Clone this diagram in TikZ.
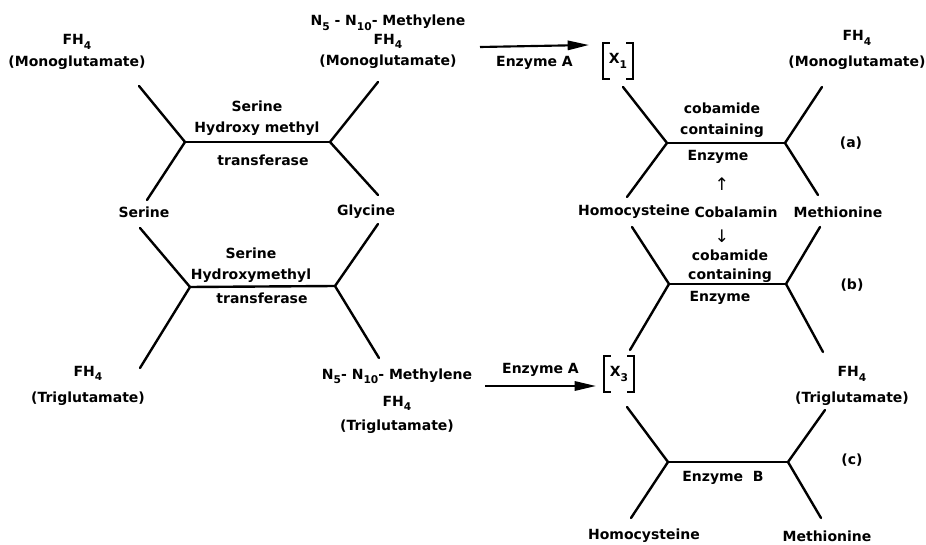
\documentclass[tikz,border=0pt]{standalone}
\usepackage{fontspec}
\setmainfont{DejaVu Sans}
\usetikzlibrary{positioning,arrows.meta}

\newcommand{\lsub}[1]{\raisebox{-0.55ex}{\fontsize{8}{9}\selectfont #1}}

\begin{document}
\begin{tikzpicture}[
    x=0.75pt,y=-0.75pt,
    lbl/.style={font=\fontsize{10.5}{16}\selectfont\bfseries,align=center,inner sep=1pt},
    bond/.style={line width=1.8pt,line cap=round,line join=miter},
    arrow/.style={-{Triangle[length=16pt,width=7pt]},line width=1.6pt},
    brk/.style={line width=1.6pt},
    glyph/.style={font=\fontsize{13}{13}\selectfont,inner sep=0pt}
]
    \useasboundingbox (0,0) rectangle (926,545);

    % Left: serine hydroxymethyl transferase
    \node[lbl] (fhmono) at (77,52) {FH\lsub{4}\\(Monoglutamate)};
    \node[lbl] (mthfmono) at (388,42) {N\lsub{5} - N\lsub{10}- Methylene\\[-2pt]FH\lsub{4}\\(Monoglutamate)};
    \node[lbl] (shmt1) at (257,118) {Serine\\Hydroxy methyl};
    \node[lbl] (tf1) at (263,160) {transferase};
    \node[lbl] (ser) at (144,212) {Serine};
    \node[lbl] (gly) at (366,212) {Glycine};
    \node[lbl] (shmt2) at (251,265) {Serine\\Hydroxymethyl};
    \node[lbl] (tf2) at (262,298) {transferase};
    \node[lbl] (fhtri) at (88,386) {FH\lsub{4}\\[4pt](Triglutamate)};
    \node[lbl] (mthftri) at (397,401) {N\lsub{5}- N\lsub{10}- Methylene\\[4pt]FH\lsub{4}\\[2pt](Triglutamate)};

    \coordinate (s1l) at (185,142);
    \coordinate (s1r) at (330,142);
    \coordinate (s1a) at (139,86);
    \coordinate (s1b) at (147,200);
    \coordinate (s1c) at (378,82);
    \coordinate (s1d) at (378,195);
    \draw[bond] (s1a) -- (s1l) -- (s1b);
    \draw[bond] (s1l) -- (s1r);
    \draw[bond] (s1c) -- (s1r) -- (s1d);

    \coordinate (s2l) at (190,287);
    \coordinate (s2r) at (335,286);
    \coordinate (s2a) at (140,228);
    \coordinate (s2b) at (140,368);
    \coordinate (s2c) at (378,224);
    \coordinate (s2d) at (379,358);
    \draw[bond] (s2a) -- (s2l) -- (s2b);
    \draw[bond] (s2l) -- (s2r);
    \draw[bond] (s2c) -- (s2r) -- (s2d);

    % Enzyme A
    \coordinate (a1s) at (480,47);
    \coordinate (a1e) at (589,45);
    \draw[arrow] (a1s) -- (a1e) node[lbl,midway,below=6pt] (enzA1) {Enzyme A};
    \node[lbl,minimum height=26pt,inner xsep=4pt] (x1) at (618,61) {X\lsub{1}};
    \draw[brk] ([xshift=5pt]x1.north west) -- (x1.north west) -- (x1.south west) -- ++(5pt,0);
    \draw[brk] ([xshift=-5pt]x1.north east) -- (x1.north east) -- (x1.south east) -- ++(-5pt,0);

    \coordinate (a2s) at (485,386);
    \coordinate (a2e) at (596,386);
    \draw[arrow] (a2s) -- (a2e) node[lbl,midway,above=5pt] (enzA2) {Enzyme A};
    \node[lbl,minimum height=27pt,inner xsep=4pt] (x3) at (619,374) {X\lsub{3}};
    \draw[brk] ([xshift=5pt]x3.north west) -- (x3.north west) -- (x3.south west) -- ++(5pt,0);
    \draw[brk] ([xshift=-5pt]x3.north east) -- (x3.north east) -- (x3.south east) -- ++(-5pt,0);

    % Right: methionine synthesis
    \node[lbl] (fhmonoR) at (857,50) {FH\lsub{4}\\[3pt](Monoglutamate)};
    \node[lbl] (cob1) at (722,120) {cobamide\\containing};
    \node[lbl] (enz1) at (718,157) {Enzyme};
    \node[glyph] (up) at (722,184) {↑};
    \node[lbl] (homo1) at (634,212) {Homocysteine};
    \node[lbl] (cobal) at (736,212) {Cobalamin};
    \node[lbl] (meth1) at (838,212) {Methionine};
    \node[glyph] (down) at (722,236) {↓};
    \node[lbl,font=\fontsize{10.5}{14}\selectfont\bfseries] (cob2) at (730,266) {cobamide\\containing};
    \node[lbl] (enz2) at (720,298) {Enzyme};
    \node[lbl] (fhtriR) at (852,386) {FH\lsub{4}\\[3pt](Triglutamate)};
    \node[lbl] (enzB) at (723,478) {Enzyme\ \ B};
    \node[lbl] (homo2) at (644,536) {Homocysteine};
    \node[lbl] (meth2) at (827,536) {Methionine};
    \node[lbl] (lbla) at (851,143) {(a)};
    \node[lbl] (lblb) at (852,285) {(b)};
    \node[lbl] (lblc) at (852,460) {(c)};

    \coordinate (ml) at (667,143);
    \coordinate (mr) at (785,143);
    \coordinate (ma) at (623,87);
    \coordinate (mb) at (627,197);
    \coordinate (mc) at (822,87);
    \coordinate (md) at (818,195);
    \draw[bond] (ma) -- (ml) -- (mb);
    \draw[bond] (ml) -- (mr);
    \draw[bond] (mc) -- (mr) -- (md);

    \coordinate (nl) at (669,284);
    \coordinate (nr) at (786,284);
    \coordinate (na) at (632,227);
    \coordinate (nb) at (630,350);
    \coordinate (nc) at (820,227);
    \coordinate (nd) at (823,352);
    \draw[bond] (na) -- (nl) -- (nb);
    \draw[bond] (nl) -- (nr);
    \draw[bond] (nc) -- (nr) -- (nd);

    \coordinate (ol) at (668,462);
    \coordinate (or) at (788,462);
    \coordinate (oa) at (627,407);
    \coordinate (ob) at (631,518);
    \coordinate (oc) at (825,410);
    \coordinate (od) at (821,518);
    \draw[bond] (oa) -- (ol) -- (ob);
    \draw[bond] (ol) -- (or);
    \draw[bond] (oc) -- (or) -- (od);
\end{tikzpicture}
\end{document}
